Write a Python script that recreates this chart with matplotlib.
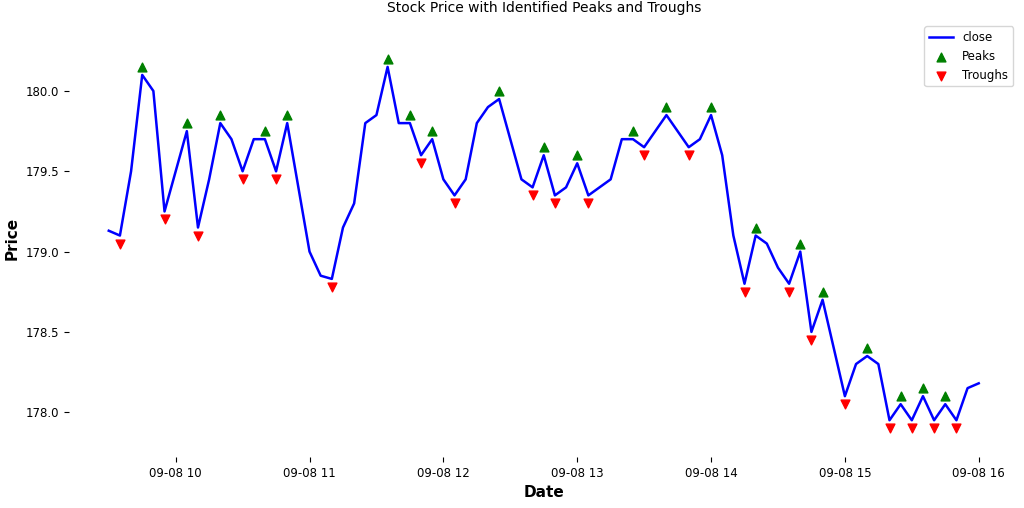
import matplotlib.pyplot as plt
import matplotlib.dates as mdates
import numpy as np
import pandas as pd

# 5-minute closes, 09:30 - 16:00
close = [179.13, 179.10, 179.50, 180.10, 180.00, 179.25, 179.50, 179.75, 179.15,
         179.45, 179.80, 179.70, 179.50, 179.70, 179.70, 179.50, 179.80, 179.40, 179.00,
         178.85, 178.83, 179.15, 179.30, 179.80, 179.85, 180.15, 179.80, 179.80, 179.60,
         179.70, 179.45, 179.35, 179.45, 179.80, 179.90, 179.95, 179.70, 179.45, 179.40,
         179.60, 179.35, 179.40, 179.55, 179.35, 179.40, 179.45, 179.70, 179.70, 179.65,
         179.75, 179.85, 179.75, 179.65, 179.70, 179.85, 179.60, 179.10, 178.80, 179.10,
         179.05, 178.90, 178.80, 179.00, 178.50, 178.70, 178.40, 178.10, 178.30, 178.35,
         178.30, 177.95, 178.05, 177.95, 178.10, 177.95, 178.05, 177.95, 178.15, 178.18]
times = pd.date_range('2023-09-08 09:30', periods=len(close), freq='5min')

c = np.array(close)
peak_idx = [i for i in range(1, len(c) - 1) if c[i] >= c[i - 1] and c[i] > c[i + 1]]
trough_idx = [i for i in range(1, len(c) - 1) if c[i] <= c[i - 1] and c[i] < c[i + 1]]

fig, ax = plt.subplots(figsize=(10.24, 5.08), dpi=100)
ax.plot(times, c, color='blue', linewidth=1.8, label='close')
ax.scatter(times[peak_idx], c[peak_idx] + 0.05, marker='^', color='green', s=40, label='Peaks')
ax.scatter(times[trough_idx], c[trough_idx] - 0.05, marker='v', color='red', s=40, label='Troughs')

ax.set_title('Stock Price with Identified Peaks and Troughs', fontsize=10)
ax.set_xlabel('Date', fontsize=11, fontweight='bold')
ax.set_ylabel('Price', fontsize=11, fontweight='bold')
ax.set_yticks([178.0, 178.5, 179.0, 179.5, 180.0])
ax.set_ylim(177.72, 180.44)
ax.set_xlim(pd.Timestamp('2023-09-08 09:12'), pd.Timestamp('2023-09-08 16:18'))
ax.xaxis.set_major_locator(mdates.HourLocator())
ax.xaxis.set_major_formatter(mdates.DateFormatter('%m-%d %H'))
ax.tick_params(labelsize=8.5)
for s in ax.spines.values():
    s.set_visible(False)
ax.legend(loc='upper right', fontsize=8.5)
plt.subplots_adjust(left=0.067, right=0.995, top=0.96, bottom=0.1)
plt.savefig('out.png')
